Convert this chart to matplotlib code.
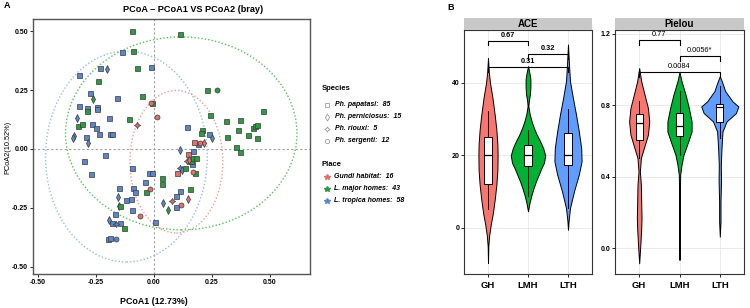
import numpy as np
import matplotlib.pyplot as plt
from matplotlib.patches import Ellipse, Rectangle

plt.rcParams['font.family'] = ['Liberation Sans', 'DejaVu Sans']

# ---------------- panel A : PCoA points ----------------
# species codes: p = papatasi, n = perniciosus, r = riouxi, s = sergenti
gh_x = [-0.014, -0.072, 0.014, 0.198, 0.218, 0.145, -0.017, -0.059, 0.098, 0.167,
        0.076, 0.115, 0.145, 0.141, 0.150, 0.172]
gh_y = [0.196, 0.101, 0.134, 0.025, 0.025, -0.020, -0.169, -0.286, -0.100, -0.096,
        -0.219, -0.237, -0.211, -0.053, -0.045, 0.030]
gh_sp = "srssnpsspsrsnrnp"

lmh_x = [-0.096, 0.112, -0.089, -0.072, -0.239, -0.049, -0.287, -0.325, -0.307, -0.105,
         -0.006, 0.230, 0.273, 0.241, 0.310, 0.371, 0.471, 0.364, 0.425, 0.435,
         0.443, 0.407, 0.445, 0.316, 0.352, 0.371, 0.207, 0.204, -0.263,
         -0.149, -0.144, -0.129, -0.032, 0.037, 0.037, 0.134, 0.155, 0.162, 0.167,
         0.181, 0.175, 0.155, 0.059]
lmh_y = [0.500, 0.486, 0.417, 0.344, 0.289, 0.223, 0.159, 0.096, 0.107, 0.127,
         0.197, 0.251, 0.248, 0.146, 0.118, 0.121, 0.162, 0.082, 0.089, 0.099,
         0.100, 0.058, 0.048, 0.052, 0.007, -0.014, 0.082, 0.068, 0.211,
         -0.243, -0.240, -0.337, -0.183, -0.124, -0.150, -0.079, -0.053, -0.051, -0.039,
         -0.038, -0.103, -0.171, -0.257]
lmh_sp = "pppppppppppp" + "s" + "pppppppppppppppp" + "n" + "ppppppppppppp" + "n"
lmh_sp = lmh_sp[:28] + "n" + lmh_sp[29:42] + "n"

lth_x = [-0.138, -0.231, -0.013, -0.323, -0.274, -0.159, -0.323, -0.287, -0.244, -0.246,
         -0.191, -0.264, -0.251, -0.236, -0.190, -0.178, -0.292, 0.144, 0.236, 0.188,
         0.170, -0.211,
         -0.200, -0.330, -0.342, -0.348, -0.282, 0.250, 0.112,
         -0.302, -0.269, -0.095, -0.020, -0.010, -0.037, -0.151, -0.088, -0.079, -0.118,
         -0.099, -0.095, -0.168, -0.178, -0.144, -0.197, -0.190, 0.007, 0.112, 0.095,
         0.095,
         -0.154, -0.195, -0.161, 0.040, 0.112, 0.120, -0.162, 0.165]
lth_y = [0.410, 0.344, 0.348, 0.314, 0.239, 0.215, 0.183, 0.173, 0.176, 0.168,
         0.130, 0.107, 0.089, 0.063, 0.062, 0.062, 0.052, 0.092, 0.063, 0.023,
         -0.007, -0.025,
         0.338, 0.131, 0.054, 0.045, 0.025, 0.046, -0.006,
         -0.053, -0.107, -0.081, -0.103, -0.100, -0.139, -0.167, -0.167, -0.184, -0.216,
         -0.213, -0.258, -0.275, -0.312, -0.312, -0.383, -0.378, -0.310, -0.177, -0.198,
         -0.246,
         -0.205, -0.299, -0.319, -0.229, -0.082, -0.090, -0.383, -0.065]
lth_sp = "p" * 22 + "n" * 7 + "p" * 21 + "nnrnrnsp"

# confidence ellipses: GH, LMH, LTH
ell_cx = [0.097, 0.118, -0.118]
ell_cy = [-0.054, 0.066, -0.032]
ell_w = [0.40, 0.996, 0.696]
ell_h = [0.604, 0.818, 0.894]

species_names = ["Ph. papatasi", "Ph. perniciosus", "Ph. riouxi", "Ph. sergenti"]
species_n = [85, 15, 5, 12]
place_names = ["Gundi habitat", "L. major homes", "L. tropica homes"]
place_n = [16, 43, 58]

# ---------------- panel B : violin outlines + box stats ----------------
groups = ["GH", "LMH", "LTH"]
ace_prof_y = [
    [46.9, 43, 40, 36, 31, 27, 23, 20, 16, 12, 8, 4, 1, -2, -5, -9.7],
    [44.6, 42.5, 41, 39, 37, 35, 33.6, 31.5, 29.4, 27.5, 25.7, 24, 22, 20, 18, 16.6,
     14.5, 12.9, 11, 9.2, 7, 6.4, 4.6],
    [50.6, 45, 40.5, 36, 31.3, 26.7, 22, 18.4, 14.7, 10.1, 5.5, 2, -0.5],
]
ace_prof_w = [
    [0, 0.02, 0.05, 0.11, 0.17, 0.21, 0.235, 0.24, 0.235, 0.21, 0.17, 0.12, 0.07, 0.03, 0.008, 0],
    [0, 0.04, 0.06, 0.06, 0.05, 0.02, 0.01, 0.04, 0.09, 0.15, 0.22, 0.30, 0.38, 0.43, 0.40, 0.34,
     0.26, 0.20, 0.14, 0.09, 0.04, 0.03, 0],
    [0, 0.025, 0.05, 0.12, 0.2, 0.27, 0.33, 0.34, 0.27, 0.15, 0.05, 0.015, 0],
]
ace_box = [[5.2, 12.2, 20.2, 25.1, 32.2], [8.7, 17, 20, 23, 27.1], [5.5, 17.5, 20.2, 26.2, 32.9]]

pie_prof_y = [
    [1.009, 0.935, 0.86, 0.785, 0.71, 0.636, 0.561, 0.505, 0.43, 0.355, 0.262, 0.168, 0.112, 0.037, -0.084],
    [0.987, 0.935, 0.86, 0.785, 0.71, 0.654, 0.598, 0.523, 0.467, 0.411, 0.3, 0.1, -0.065],
    [0.963, 0.935, 0.88, 0.822, 0.794, 0.757, 0.71, 0.654, 0.561, 0.467, 0.374, 0.262, 0.15, 0.065],
]
pie_prof_w = [
    [0, 0.05, 0.133, 0.217, 0.25, 0.217, 0.117, 0.042, 0.017, 0.042, 0.05, 0.058, 0.05, 0.033, 0],
    [0, 0.05, 0.15, 0.233, 0.3, 0.3, 0.217, 0.1, 0.05, 0.017, 0.008, 0.006, 0],
    [0, 0.05, 0.133, 0.317, 0.46, 0.40, 0.167, 0.067, 0.042, 0.025, 0.03, 0.017, 0.017, 0],
]
pie_box = [[0.505, 0.604, 0.70, 0.751, 0.826], [0.523, 0.626, 0.686, 0.757, 0.878],
           [0.62, 0.706, 0.79, 0.807, 0.906]]

# brackets: (group a, group b, height, label)
ace_sig = [(1, 2, 51.7, "0.67"), (2, 3, 48.0, "0.32"), (1, 3, 44.4, "0.31")]
pie_sig = [(1, 2, 1.164, "0.77"), (2, 3, 1.077, "0.0056*"), (1, 3, 0.987, "0.0084")]

place_col = ['#e0706b', '#2e9a3f', '#5d85c9']
violin_col = ['#f8766d', '#00b233', '#619cff']
ell_col = ['#f19a95', '#55c255', '#9db8e8']
sp_marker = {'p': 's', 'n': 'd', 'r': (4, 1, 0), 's': 'o'}
sp_size = {'p': 3.6, 'n': 4.2, 'r': 4.5, 's': 3.6}

W, H = 750, 308
fig = plt.figure(figsize=(7.5, 3.08), dpi=100)


def px_axes(l, t, r, b):
    return fig.add_axes([l / W, 1 - b / H, (r - l) / W, (b - t) / H])


# ---------------- panel A ----------------
axA = px_axes(33, 19, 310, 274)
for i in range(3):
    axA.add_patch(Ellipse((ell_cx[i], ell_cy[i]), ell_w[i], ell_h[i], fill=False,
                          ec=ell_col[i], ls=(0, (1, 1.5)), lw=1.0, zorder=1))
axA.axhline(0, color='#a0a0a0', ls=(0, (2, 2)), lw=0.8, zorder=0)
axA.axvline(0, color='#a0a0a0', ls=(0, (2, 2)), lw=0.8, zorder=0)
for xs, ys, sps, c in [(lth_x, lth_y, lth_sp, place_col[2]),
                       (lmh_x, lmh_y, lmh_sp, place_col[1]),
                       (gh_x, gh_y, gh_sp, place_col[0])]:
    for x, y, s in zip(xs, ys, sps):
        axA.plot(x, y, marker=sp_marker[s], ms=sp_size[s], mfc=c, mec='#3a3a3a',
                 mew=0.5, ls='none', zorder=3)
axA.set_xlim(-0.52, 0.672)
axA.set_ylim(-0.53, 0.551)
tk = [-0.5, -0.25, 0, 0.25, 0.5]
tl = ["-0.50", "-0.25", "0.00", "0.25", "0.50"]
axA.set_xticks(tk, tl)
axA.set_yticks(tk, tl)
axA.tick_params(labelsize=5, length=2, width=0.6, pad=1.5)
for lab in axA.get_xticklabels() + axA.get_yticklabels():
    lab.set_fontweight('bold')
for s in axA.spines.values():
    s.set_color('#555555')
    s.set_linewidth(1.0)


# ---------------- panel B ----------------
def facet(l, r, title, prof_y, prof_w, box, sig, ylim, yt, ytl, sig_bold):
    ax = px_axes(l, 30, r, 274)
    for i in range(3):
        xc = i + 1
        py = np.array(prof_y[i])
        pw = np.array(prof_w[i])
        ax.fill_betweenx(py, xc - pw, xc + pw, facecolor=violin_col[i],
                         edgecolor='black', lw=0.7, zorder=2)
        lo, q1, med, q3, hi = box[i]
        ax.plot([xc, xc], [lo, q1], color='black', lw=0.7, zorder=3)
        ax.plot([xc, xc], [q3, hi], color='black', lw=0.7, zorder=3)
        ax.add_patch(Rectangle((xc - 0.09, q1), 0.18, q3 - q1, facecolor='white',
                               edgecolor='black', lw=0.7, zorder=4))
        ax.plot([xc - 0.09, xc + 0.09], [med, med], color='black', lw=0.9, zorder=5)
    span = ylim[1] - ylim[0]
    for a, b, h, lab in sig:
        tick = 0.02 * span
        ax.plot([a, a, b, b], [h - tick, h, h, h - tick], color='black', lw=0.8)
        ax.text((a + b) / 2, h + 0.008 * span, lab, ha='center', va='bottom',
                fontsize=5.3, fontweight='bold' if sig_bold else 'normal')
    ax.set_xlim(0.4, 3.6)
    ax.set_ylim(*ylim)
    ax.set_xticks([1, 2, 3], groups)
    ax.set_yticks(yt, ytl)
    ax.grid(True, color='#e6e6e6', lw=0.6, zorder=0)
    ax.set_axisbelow(True)
    ax.tick_params(axis='y', labelsize=5, length=2, width=0.6, pad=1.5)
    ax.tick_params(axis='x', labelsize=6.8, length=2, width=0.6, pad=3)
    for lab in ax.get_xticklabels() + ax.get_yticklabels():
        lab.set_fontweight('bold')
    for s in ax.spines.values():
        s.set_color('#333333')
        s.set_linewidth(0.8)
    st = px_axes(l, 18, r, 30)
    st.set_facecolor('#c8c8c8')
    st.set_xticks([])
    st.set_yticks([])
    for s in st.spines.values():
        s.set_visible(False)
    st.text(0.5, 0.5, title, ha='center', va='center', fontsize=7,
            fontweight='bold', transform=st.transAxes)
    return ax


facet(464, 592, "ACE", ace_prof_y, ace_prof_w, ace_box, ace_sig, (-12.7, 54.6),
      [0, 20, 40], ["0", "20", "40"], True)
facet(615, 744, "Pielou", pie_prof_y, pie_prof_w, pie_box, pie_sig, (-0.144, 1.222),
      [0, 0.4, 0.8, 1.2], ["0.0", "0.4", "0.8", "1.2"], False)

# ---------------- overlay: labels + legend ----------------
ov = fig.add_axes([0, 0, 1, 1], zorder=10)
ov.set_xlim(0, W)
ov.set_ylim(H, 0)
ov.axis('off')
ov.patch.set_alpha(0)
ov.text(4, 6, "A", fontsize=6.5, fontweight='bold', va='center')
ov.text(447, 8, "B", fontsize=6.5, fontweight='bold', va='center')
ov.text(193, 10, "PCoA \u2013 PCoA1 VS PCoA2 (bray)", fontsize=6.6, fontweight='bold',
        ha='center', va='center')
ov.text(154, 302, "PCoA1 (12.73%)", fontsize=6.4, fontweight='bold', ha='center', va='center')
ov.text(8, 147, "PCoA2(10.52%)", fontsize=5.3, rotation=90, ha='center', va='center')

ov.text(322, 89, "Species", fontsize=5.5, fontweight='bold', va='center')
for i, (nm, n) in enumerate(zip(species_names, species_n)):
    y = 105 + 12 * i
    code = "pnrs"[i]
    ov.plot(327, y, marker=sp_marker[code], ms=sp_size[code] * 0.85, mfc='none',
            mec='#9a9a9a', mew=0.6, ls='none')
    ov.text(335, y, f"{nm}:  {n}", fontsize=5, fontweight='bold', style='italic', va='center')
ov.text(322, 164, "Place", fontsize=5.5, fontweight='bold', va='center')
for i, (nm, n) in enumerate(zip(place_names, place_n)):
    y = 177 + 12 * i
    ov.plot(327, y, marker='*', ms=4.2, mfc=place_col[i], mec=place_col[i], ls='none')
    ov.text(334, y, f"{nm}:  {n}", fontsize=5, fontweight='bold', style='italic', va='center')

fig.savefig("out.png", dpi=100)
